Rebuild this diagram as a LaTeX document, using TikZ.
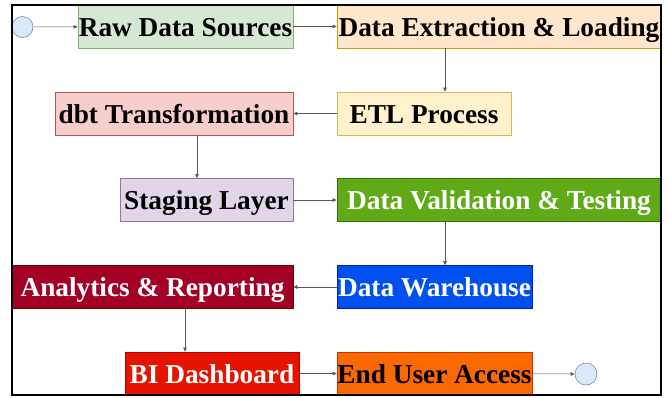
\documentclass[tikz,border=0pt]{standalone}
\usepackage{fontspec}
\setmainfont{Liberation Serif}
\usetikzlibrary{arrows.meta}
\definecolor{rawF}{HTML}{D5E8D4}\definecolor{rawD}{HTML}{82B366}
\definecolor{extF}{HTML}{FFE6CC}\definecolor{extD}{HTML}{D79B00}
\definecolor{etlF}{HTML}{FFF2CC}\definecolor{etlD}{HTML}{D6B656}
\definecolor{dbtF}{HTML}{F8CECC}\definecolor{dbtD}{HTML}{B85450}
\definecolor{stgF}{HTML}{E1D5E7}\definecolor{stgD}{HTML}{9673A6}
\definecolor{valF}{HTML}{60A917}\definecolor{valD}{HTML}{2D7600}
\definecolor{anaF}{HTML}{A20025}\definecolor{anaD}{HTML}{6F0000}
\definecolor{whF}{HTML}{0050EF}\definecolor{whD}{HTML}{001DBC}
\definecolor{biF}{HTML}{E51400}\definecolor{biD}{HTML}{B20000}
\definecolor{endF}{HTML}{FA6800}\definecolor{endD}{HTML}{C73500}
\definecolor{cirF}{HTML}{DAE8FC}\definecolor{cirD}{HTML}{6C8EBF}
\tikzset{
  box/.style={rectangle, draw, line width=0.6pt, inner sep=0pt, minimum height=43pt,
    text height=21pt, text depth=2pt,
    font=\fontsize{27.3}{29}\selectfont\bfseries},
  term/.style={circle, draw=cirD, fill=cirF, line width=0.6pt, inner sep=0pt, minimum size=21pt},
  conn/.style={draw=black!65, line width=0.5pt, -{Triangle[length=4pt,width=3.5pt]}}
}
\begin{document}
\begin{tikzpicture}[x=1pt,y=-1pt]
\useasboundingbox (0,0) rectangle (670,397);
\node[term] (start) at (22.5,27) {};
\node[box, fill=rawF, draw=rawD, minimum width=215pt] (raw) at (185.5,26.5) {Raw Data Sources};
\node[box, fill=extF, draw=extD, minimum width=324pt] (ext) at (499,26.5) {Data Extraction \& Loading};
\node[box, fill=etlF, draw=etlD, minimum width=174pt] (etl) at (424,113.5) {ETL Process};
\node[box, fill=dbtF, draw=dbtD, minimum width=238pt] (dbt) at (174,113.5) {dbt Transformation};
\node[box, fill=stgF, draw=stgD, minimum width=173pt] (stg) at (206.5,200) {Staging Layer};
\node[box, fill=valF, draw=valD, minimum width=324pt, text=white] (val) at (499,200) {Data Validation \& Testing};
\node[box, fill=whF, draw=whD, minimum width=195pt, text=white] (wh) at (434.5,287) {Data Warehouse};
\node[box, fill=anaF, draw=anaD, minimum width=281pt, text=white] (ana) at (152.5,287) {Analytics \& Reporting};
\node[box, fill=biF, draw=biD, minimum width=174pt, text=white] (bi) at (212,373.5) {BI Dashboard};
\node[box, fill=endF, draw=endD, minimum width=195pt] (end) at (434.5,373.5) {End User Access};
\node[term, minimum size=22pt] (stop) at (586,374) {};
\draw[conn] (start) -- (raw);
\draw[conn] (raw) -- (ext);
\draw[conn] (ext.south -| 445,0) -- (etl.north -| 445,0);
\draw[conn] (etl) -- (dbt);
\draw[conn] (dbt.south -| 197,0) -- (stg.north -| 197,0);
\draw[conn] (stg) -- (stg -| val.west);
\draw[conn] (val.south -| 445,0) -- (wh.north -| 445,0);
\draw[conn] (wh) -- (ana);
\draw[conn] (ana.south -| 185,0) -- (bi.north -| 185,0);
\draw[conn] (bi) -- (end);
\draw[conn] (end) -- (stop);
\draw[line width=2pt] (12,5) rectangle (661,395);
\end{tikzpicture}
\end{document}
